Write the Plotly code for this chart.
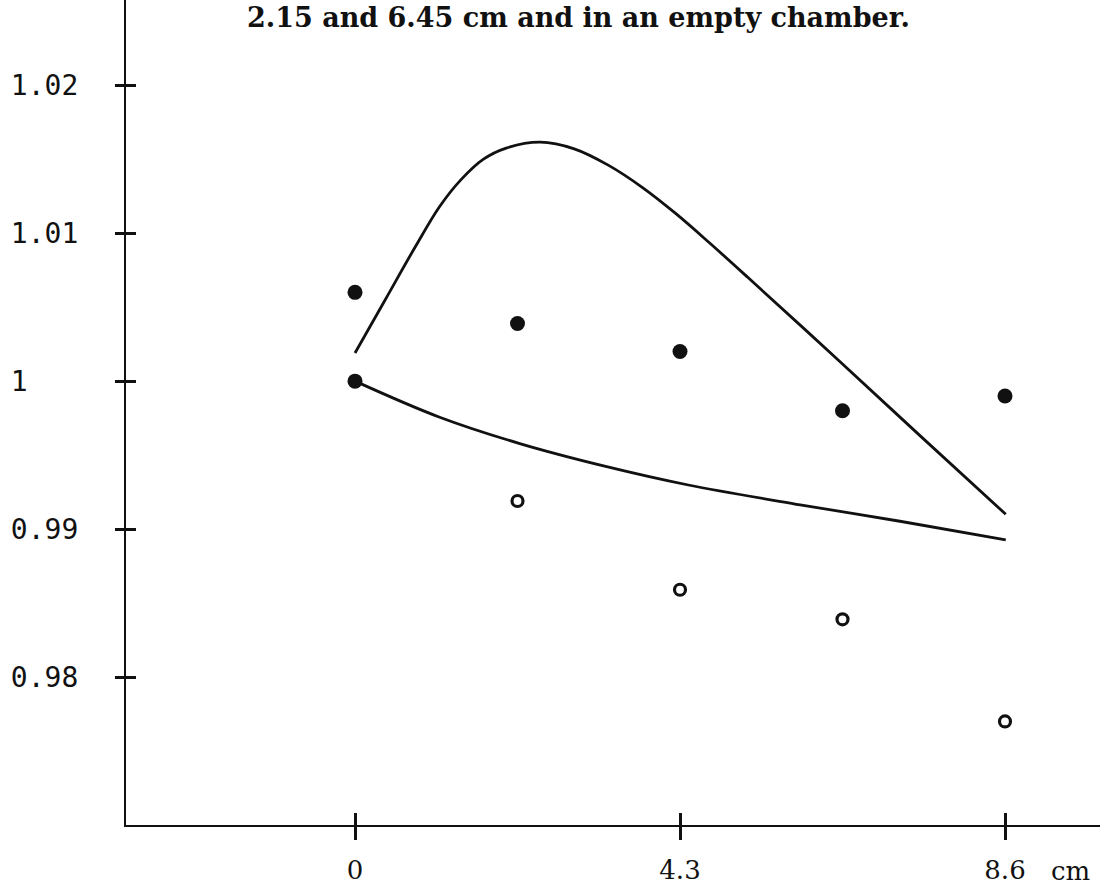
import plotly.graph_objects as go

# Positions along the chamber (cm) where readings were taken
positions = [0, 2.15, 4.3, 6.45, 8.6]

# Measured ratios, solid markers
filled_x = [0, 0, 2.15, 4.3, 6.45, 8.6]
filled_y = [1.006, 1.000, 1.0039, 1.0020, 0.9980, 0.9990]

# Measured ratios, open markers
open_x = [2.15, 4.3, 6.45, 8.6]
open_y = [0.9919, 0.9859, 0.9839, 0.9770]

# Upper calculated curve
upper_x = [0, 0.4, 0.8, 1.12, 1.4, 1.7, 2.0, 2.45, 2.9, 3.35, 3.8, 4.25,
           4.7, 5.2, 6.4, 7.5, 8.61]
upper_y = [1.0019, 1.0055, 1.0091, 1.0118, 1.0136, 1.0150, 1.01575, 1.01615,
           1.0157, 1.0146, 1.0131, 1.0113, 1.0093, 1.0070, 1.0014, 0.9962, 0.9910]

# Lower calculated curve
lower_x = [0, 1.12, 2.18, 3.33, 4.41, 5.89, 7.21, 8.61]
lower_y = [1.0000, 0.99756, 0.99578, 0.99422, 0.99298, 0.99164, 0.99053, 0.98927]

# Axis ticks and labels
x_ticks = [0, 4.3, 8.6]
x_tick_text = ["0", "4.3", "8.6"]
y_ticks = [0.98, 0.99, 1.00, 1.01, 1.02]
y_tick_text = ["0.98", "0.99", "1\u00a0\u00a0\u00a0", "1.01", "1.02"]

title_text = "2.15 and 6.45 cm and in an empty chamber."
unit_text = "cm"

INK = "#111111"
X_RANGE = [-3.03, 9.857]
Y_RANGE = [0.97, 1.02576]

fig = go.Figure()

fig.add_trace(go.Scatter(x=upper_x, y=upper_y, mode="lines",
                         line=dict(color=INK, width=2.8, shape="spline", smoothing=1.0)))
fig.add_trace(go.Scatter(x=lower_x, y=lower_y, mode="lines",
                         line=dict(color=INK, width=2.8, shape="spline", smoothing=1.0)))
fig.add_trace(go.Scatter(x=filled_x, y=filled_y, mode="markers",
                         marker=dict(symbol="circle", size=15, color=INK)))
# open markers live on the overlay axes, which also carry the inner half of the ticks
fig.add_trace(go.Scatter(x=open_x, y=open_y, mode="markers", xaxis="x2", yaxis="y2",
                         marker=dict(symbol="circle-open", size=11, color=INK,
                                     line=dict(color=INK, width=3.2))))

axis_common = dict(showgrid=False, zeroline=False, showline=False,
                   tickcolor=INK, tickwidth=2.5)

fig.update_layout(
    width=1107, height=885,
    margin=dict(l=126, r=7, t=0, b=48),
    paper_bgcolor="white", plot_bgcolor="white",
    showlegend=False,
    xaxis=dict(range=X_RANGE, tickvals=x_ticks, ticktext=x_tick_text,
               ticks="outside", ticklen=13, showline=True, linecolor=INK, linewidth=2.2,
               showgrid=False, zeroline=False, tickcolor=INK, tickwidth=2.5,
               tickfont=dict(family="DejaVu Serif", size=26, color=INK),
               ticklabelstandoff=8),
    yaxis=dict(range=Y_RANGE, tickvals=y_ticks, ticktext=y_tick_text,
               ticks="outside", ticklen=9, showline=True, linecolor=INK, linewidth=2.2,
               showgrid=False, zeroline=False, tickcolor=INK, tickwidth=2.5,
               tickfont=dict(family="DejaVu Sans Mono", size=28, color=INK),
               ticklabelstandoff=31),
    xaxis2=dict(range=X_RANGE, overlaying="x", anchor="y2", side="bottom",
                tickvals=x_ticks, ticks="inside", ticklen=12, showticklabels=False,
                **axis_common),
    yaxis2=dict(range=Y_RANGE, overlaying="y", anchor="x2", side="left",
                tickvals=y_ticks, ticks="inside", ticklen=10, showticklabels=False,
                **axis_common),
)

fig.add_annotation(text=title_text, xref="paper", yref="paper",
                   x=(245 - 126) / 974, y=1, xanchor="left", yanchor="top", yshift=0,
                   showarrow=False,
                   font=dict(family="DejaVu Serif", size=27, color=INK, weight="bold"))
fig.add_annotation(text=unit_text, xref="paper", yref="paper",
                   x=(1092 - 126) / 974, y=-47 / 837, xanchor="right", yanchor="middle",
                   showarrow=False,
                   font=dict(family="DejaVu Serif", size=26, color=INK))

fig.write_html("out.html")
